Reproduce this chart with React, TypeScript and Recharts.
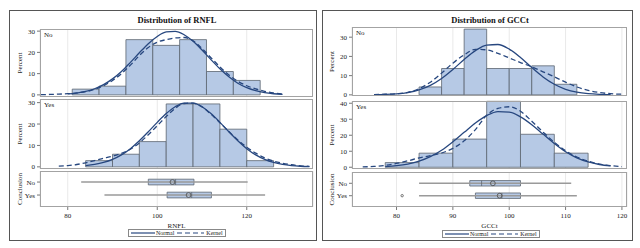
import React from "react";
import {
  ComposedChart,
  Line,
  Scatter,
  XAxis,
  YAxis,
  CartesianGrid,
  ReferenceArea,
  ReferenceLine,
} from "recharts";

const FONT = "'Liberation Serif', 'DejaVu Serif', serif";
const BAR_FILL = "#b6c9e5";
const BAR_STROKE = "#5c6470";
const CURVE = "#27477f";
const FRAME = "#a3a3a3";
const GRID = "#e9e9e9";
const WHISKER = "#9a9a9a";
const TEXT = "#222";

const GROUPS = ["No", "Yes"];

// ---- RNFL ----
const rnflNoEdges = [81, 87, 93, 99, 105, 111, 117, 123];
const rnflNoPct = [2.7, 4.1, 26.0, 23.3, 26.0, 11.0, 6.8];
const rnflYesEdges = [84, 90, 96, 102, 108, 114, 120, 126];
const rnflYesPct = [2.9, 5.9, 11.8, 29.4, 29.4, 17.6, 2.9];

const rnflNoNormalX = [80, 82, 84, 86, 88, 90, 92, 94, 96, 98, 100, 102, 104, 106, 108, 110, 112, 114, 116, 118, 120, 122, 124, 126, 128];
const rnflNoNormalY = [0.43, 0.87, 1.63, 2.89, 4.81, 7.53, 11.0, 15.3, 19.8, 24.1, 27.5, 29.6, 29.9, 28.3, 25.2, 21.1, 16.6, 12.3, 8.5, 5.5, 3.4, 1.95, 1.05, 0.53, 0.25];
const rnflNoKernelX = [74, 76, 78, 80, 82, 84, 86, 88, 90, 92, 94, 96, 98, 100, 102, 104, 106, 108, 110, 112, 114, 116, 118, 120, 122, 124, 126, 128];
const rnflNoKernelY = [0.1, 0.2, 0.35, 0.55, 0.9, 1.5, 2.6, 4.3, 6.8, 10.0, 14.0, 18.5, 22.3, 24.8, 26.0, 26.8, 27.0, 25.5, 21.8, 17.5, 13.2, 9.4, 6.4, 4.3, 2.8, 1.7, 0.9, 0.4];

const rnflYesNormalX = [84, 86, 88, 90, 92, 94, 96, 98, 100, 102, 104, 106, 108, 110, 112, 114, 116, 118, 120, 122, 124, 126, 128, 130, 132, 134];
const rnflYesNormalY = [0.59, 1.13, 2.05, 3.5, 5.6, 8.5, 12.2, 16.4, 20.8, 24.9, 28.1, 29.8, 29.8, 28.1, 24.9, 20.8, 16.4, 12.2, 8.5, 5.6, 3.5, 2.05, 1.13, 0.59, 0.29, 0.13];
const rnflYesKernelX = [78, 80, 82, 84, 86, 88, 90, 92, 94, 96, 98, 100, 102, 104, 106, 108, 110, 112, 114, 116, 118, 120, 122, 124, 126, 128, 130, 132, 134];
const rnflYesKernelY = [0.3, 0.6, 1.1, 1.9, 2.9, 4.0, 5.0, 6.3, 8.2, 11.2, 15.0, 19.2, 23.5, 27.3, 29.6, 29.8, 28.0, 24.6, 20.6, 16.5, 12.6, 9.2, 6.4, 4.2, 2.7, 1.7, 1.0, 0.5, 0.2];

const rnflMin = [83, 88.2];
const rnflQ1 = [98, 102.2];
const rnflMedian = [104.1, 107.7];
const rnflQ3 = [108.2, 112.1];
const rnflMax = [120.2, 124.1];
const rnflMean = [103.4, 107];
const rnflOutliers: number[][] = [[], []];

// ---- GCCt ----
const gcctNoEdges = [84, 88, 92, 96, 100, 104, 108, 112];
const gcctNoPct = [4.1, 13.7, 34.2, 13.7, 13.7, 15.1, 5.5];
const gcctYesEdges = [78, 84, 90, 96, 102, 108, 114];
const gcctYesPct = [2.9, 8.8, 17.6, 41.2, 20.6, 8.8];

const gcctNoNormalX = [76, 78, 80, 82, 84, 86, 88, 90, 92, 94, 96, 98, 100, 102, 104, 106, 108, 110, 112, 114, 116, 118];
const gcctNoNormalY = [0.06, 0.19, 0.49, 1.18, 2.54, 4.9, 8.5, 13.2, 18.4, 23.0, 25.9, 26.2, 23.8, 19.4, 14.2, 9.3, 5.5, 2.9, 1.39, 0.6, 0.23, 0.08];
const gcctNoKernelX = [76, 78, 80, 82, 84, 86, 88, 90, 92, 94, 96, 98, 100, 102, 104, 106, 108, 110, 112, 114, 116, 118, 120];
const gcctNoKernelY = [0.1, 0.3, 0.6, 1.3, 3.2, 6.6, 11.3, 16.5, 20.8, 23.7, 23.4, 21.6, 19.2, 16.8, 14.6, 12.0, 9.4, 6.6, 4.1, 2.3, 1.2, 0.6, 0.3];

const gcctYesNormalX = [78, 80, 82, 84, 86, 88, 90, 92, 94, 96, 98, 100, 102, 104, 106, 108, 110, 112, 114, 116, 118];
const gcctYesNormalY = [0.42, 0.95, 1.97, 3.75, 6.6, 10.6, 15.9, 21.8, 27.7, 32.3, 34.8, 34.5, 31.5, 26.6, 20.7, 14.8, 9.7, 5.9, 3.3, 1.71, 0.81];
const gcctYesKernelX = [74, 76, 78, 80, 82, 84, 86, 88, 90, 92, 94, 96, 98, 100, 102, 104, 106, 108, 110, 112, 114, 116, 118, 120];
const gcctYesKernelY = [0.2, 0.5, 1.2, 2.4, 4.0, 5.8, 7.3, 8.9, 11.8, 16.5, 23.5, 32.5, 36.8, 37.8, 35.0, 28.8, 22.0, 15.6, 10.3, 6.4, 3.8, 2.0, 1.0, 0.4];

const gcctMin = [84, 84];
const gcctQ1 = [93, 94];
const gcctMedian = [95.1, 98.7];
const gcctQ3 = [102, 102];
const gcctMax = [111, 112];
const gcctMean = [97.1, 98.3];
const gcctOutliers: number[][] = [[], [81]];

const pts = (xs: number[], ys: number[]) => xs.map((x, i) => ({ x, y: ys[i] }));

const Y_AXIS_W = 30;
const PAD = 5; // room above/below each plot so edge tick labels are not clipped
const tickStyle = { fontSize: 7, fill: TEXT, fontFamily: FONT };

function Hist({ left, top, width, height, xDomain, xTicks, yDomain, yTicks, edges, pct, normal, kernel, tag }: any) {
  return (
    <div style={{ position: "absolute", left: left - Y_AXIS_W, top: top - PAD }}>
      <ComposedChart width={width + Y_AXIS_W} height={height + 2 * PAD} margin={{ top: PAD, right: 0, bottom: PAD, left: 0 }}>
        <CartesianGrid horizontal={false} stroke={GRID} />
        <XAxis type="number" dataKey="x" domain={xDomain} ticks={xTicks} interval={0} hide allowDataOverflow />
        <YAxis
          type="number"
          dataKey="y"
          domain={yDomain}
          ticks={yTicks}
          interval={0}
          width={Y_AXIS_W}
          allowDataOverflow
          axisLine={false}
          tickSize={3}
          tickMargin={2}
          tickLine={{ stroke: "#777" }}
          tick={tickStyle}
          label={{ value: "Percent", angle: -90, position: "insideLeft", offset: 10, fontSize: 7, fill: TEXT, fontFamily: FONT, style: { textAnchor: "middle" } }}
        />
        {pct.map((p: number, i: number) => (
          <ReferenceArea
            key={i}
            x1={edges[i]}
            x2={edges[i + 1]}
            y1={0}
            y2={p}
            fill={BAR_FILL}
            fillOpacity={1}
            stroke={BAR_STROKE}
            strokeWidth={0.8}
          />
        ))}
        <Line data={normal} dataKey="y" type="monotone" stroke={CURVE} strokeWidth={1.3} dot={false} isAnimationActive={false} />
        <Line data={kernel} dataKey="y" type="monotone" stroke={CURVE} strokeWidth={1.3} strokeDasharray="5 3" dot={false} isAnimationActive={false} />
      </ComposedChart>
      <div style={{ position: "absolute", left: Y_AXIS_W, top: PAD, width, height, border: `1px solid ${FRAME}`, boxSizing: "border-box", pointerEvents: "none" }} />
      <div style={{ position: "absolute", left: Y_AXIS_W + 4, top: PAD + 2, fontSize: 7, fontFamily: FONT, color: TEXT, lineHeight: "9px" }}>{tag}</div>
    </div>
  );
}

function BoxPanel({ left, top, width, height, xDomain, xTicks, yDomain, xLabel, min, q1, median, q3, max, mean, outliers }: any) {
  const axisH = 22;
  const meanPts = mean.map((m: number, i: number) => ({ x: m, y: i + 1 }));
  const outPts = outliers.flatMap((list: number[], i: number) => list.map((o) => ({ x: o, y: i + 1 })));
  return (
    <div style={{ position: "absolute", left: left - Y_AXIS_W, top }}>
      <ComposedChart width={width + Y_AXIS_W + 6} height={height + axisH} margin={{ top: 0, right: 6, bottom: 0, left: 0 }}>
        <CartesianGrid horizontal={false} stroke={GRID} />
        <XAxis
          type="number"
          dataKey="x"
          domain={xDomain}
          ticks={xTicks}
          interval={0}
          allowDataOverflow
          height={axisH}
          axisLine={false}
          tickSize={3}
          tickMargin={3}
          tickLine={{ stroke: "#777" }}
          tick={tickStyle}
          label={{ value: xLabel, position: "insideBottom", offset: 1, fontSize: 7, fill: TEXT, fontFamily: FONT }}
        />
        <YAxis
          type="number"
          dataKey="y"
          domain={yDomain}
          reversed
          ticks={[1, 2]}
          interval={0}
          tickFormatter={(v: number) => GROUPS[v - 1]}
          width={Y_AXIS_W}
          allowDataOverflow
          axisLine={false}
          tickSize={3}
          tickMargin={2}
          tickLine={{ stroke: "#777" }}
          tick={tickStyle}
          label={{ value: "Conclusion", angle: -90, position: "insideLeft", offset: 10, fontSize: 7, fill: TEXT, fontFamily: FONT, style: { textAnchor: "middle" } }}
        />
        {GROUPS.map((g, i) => {
          const y = i + 1;
          return (
            <React.Fragment key={g}>
              <ReferenceLine segment={[{ x: min[i], y }, { x: max[i], y }]} stroke={WHISKER} strokeWidth={1.5} />
              <ReferenceArea x1={q1[i]} x2={q3[i]} y1={y - 0.22} y2={y + 0.22} fill={BAR_FILL} fillOpacity={1} stroke={BAR_STROKE} strokeWidth={0.8} />
              <ReferenceLine segment={[{ x: median[i], y: y - 0.22 }, { x: median[i], y: y + 0.22 }]} stroke={BAR_STROKE} strokeWidth={0.8} />
            </React.Fragment>
          );
        })}
        <Scatter
          data={meanPts}
          isAnimationActive={false}
          shape={(p: any) => <circle cx={p.cx} cy={p.cy} r={2.4} fill="none" stroke="#555" strokeWidth={0.9} />}
        />
        <Scatter
          data={outPts}
          isAnimationActive={false}
          shape={(p: any) => <circle cx={p.cx} cy={p.cy} r={1.2} fill="none" stroke="#555" strokeWidth={0.8} />}
        />
      </ComposedChart>
      <div style={{ position: "absolute", left: Y_AXIS_W, top: 0, width, height, border: `1px solid ${FRAME}`, boxSizing: "border-box", pointerEvents: "none" }} />
    </div>
  );
}

function LegendBox({ left, top }: { left: number; top: number }) {
  return (
    <div
      style={{
        position: "absolute",
        left,
        top,
        width: 98,
        height: 8,
        border: "1px solid #888",
        boxSizing: "border-box",
        display: "flex",
        alignItems: "center",
        fontSize: 6,
        fontFamily: FONT,
        color: TEXT,
        lineHeight: "6px",
        paddingLeft: 2,
      }}
    >
      <svg width={24} height={4}>
        <line x1={0} y1={2} x2={24} y2={2} stroke={CURVE} strokeWidth={1.2} />
      </svg>
      <span style={{ marginLeft: 1 }}>Normal</span>
      <svg width={27} height={4} style={{ marginLeft: 3 }}>
        <line x1={0} y1={2} x2={27} y2={2} stroke={CURVE} strokeWidth={1.2} strokeDasharray="5 3" />
      </svg>
      <span style={{ marginLeft: 2 }}>Kernel</span>
    </div>
  );
}

function Panel({ frame, titleX, title, plotLeft, plotW, xDomain, xTicks, hists, box, legendAt, xLabel }: any) {
  return (
    <>
      <div style={{ position: "absolute", left: frame.left, top: frame.top, width: frame.width, height: frame.height, border: "1px solid #555", boxSizing: "border-box" }} />
      <div
        style={{
          position: "absolute",
          left: titleX,
          top: 15,
          transform: "translateX(-50%)",
          fontSize: 8.5,
          fontWeight: "bold",
          fontFamily: FONT,
          color: "#111",
          whiteSpace: "nowrap",
          lineHeight: "10px",
        }}
      >
        {title}
      </div>
      {hists.map((h: any, i: number) => (
        <Hist key={i} left={plotLeft} width={plotW} xDomain={xDomain} xTicks={xTicks} {...h} />
      ))}
      <BoxPanel left={plotLeft} width={plotW} xDomain={xDomain} xTicks={xTicks} xLabel={xLabel} {...box} />
      <LegendBox left={legendAt.left} top={legendAt.top} />
    </>
  );
}

export default function App() {
  return (
    <div style={{ position: "absolute", left: 0, top: 0, width: 640, height: 248, background: "#fff", overflow: "hidden" }}>
      <Panel
        frame={{ left: 9, top: 10, width: 308, height: 231 }}
        titleX={177}
        title="Distribution of RNFL"
        xLabel="RNFL"
        plotLeft={40}
        plotW={273}
        xDomain={[73.8, 134.8]}
        xTicks={[80, 100, 120]}
        hists={[
          { top: 29, height: 68, yDomain: [-1, 31], yTicks: [0, 10, 20, 30], edges: rnflNoEdges, pct: rnflNoPct, normal: pts(rnflNoNormalX, rnflNoNormalY), kernel: pts(rnflNoKernelX, rnflNoKernelY), tag: GROUPS[0] },
          { top: 99, height: 70, yDomain: [-1, 31.7], yTicks: [0, 10, 20, 30], edges: rnflYesEdges, pct: rnflYesPct, normal: pts(rnflYesNormalX, rnflYesNormalY), kernel: pts(rnflYesKernelX, rnflYesKernelY), tag: GROUPS[1] },
        ]}
        box={{ top: 171, height: 36, yDomain: [0.15, 2.92], min: rnflMin, q1: rnflQ1, median: rnflMedian, q3: rnflQ3, max: rnflMax, mean: rnflMean, outliers: rnflOutliers }}
        legendAt={{ left: 128, top: 229 }}
      />
      <Panel
        frame={{ left: 322, top: 10, width: 311, height: 231 }}
        titleX={490}
        title="Distribution of GCCt"
        xLabel="GCCt"
        plotLeft={352}
        plotW={275}
        xDomain={[72.1, 120.9]}
        xTicks={[80, 90, 100, 110, 120]}
        hists={[
          { top: 27, height: 69, yDomain: [-0.6, 35.3], yTicks: [0, 10, 20, 30], edges: gcctNoEdges, pct: gcctNoPct, normal: pts(gcctNoNormalX, gcctNoNormalY), kernel: pts(gcctNoKernelX, gcctNoKernelY), tag: GROUPS[0] },
          { top: 101, height: 68, yDomain: [-1.1, 41.4], yTicks: [0, 10, 20, 30, 40], edges: gcctYesEdges, pct: gcctYesPct, normal: pts(gcctYesNormalX, gcctYesNormalY), kernel: pts(gcctYesKernelX, gcctYesKernelY), tag: GROUPS[1] },
        ]}
        box={{ top: 172, height: 35, yDomain: [0.09, 2.91], min: gcctMin, q1: gcctQ1, median: gcctMedian, q3: gcctQ3, max: gcctMax, mean: gcctMean, outliers: gcctOutliers }}
        legendAt={{ left: 442, top: 230 }}
      />
    </div>
  );
}
